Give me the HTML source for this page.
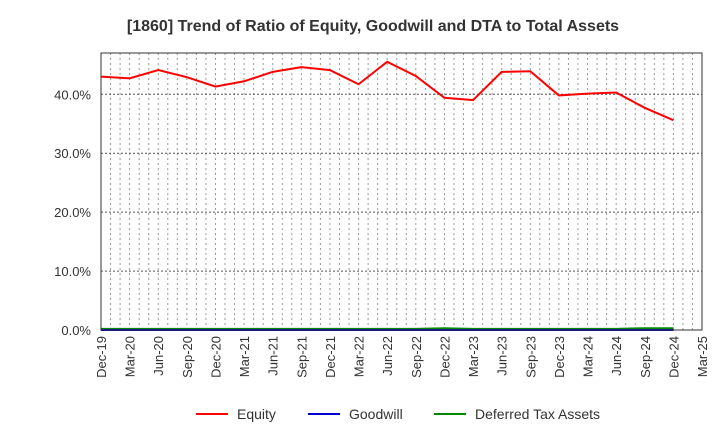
<!DOCTYPE html>
<html><head><meta charset="utf-8"><style>
body{margin:0;background:#fff;font-family:"Liberation Sans",sans-serif}
</style></head><body>
<svg width="720" height="440" xmlns="http://www.w3.org/2000/svg">
<text x="373" y="31" text-anchor="middle" font-size="16" font-weight="bold" fill="#333">[1860]  Trend of Ratio of Equity, Goodwill and DTA to Total Assets</text>
<g id="grid"></g>
<g id="yaxis"></g>
<g id="xaxis"></g>
<g id="series"></g>
<rect x="101" y="53" width="601" height="277" fill="none" stroke="#333" stroke-width="1"/>
<g>
<g><line x1="196" y1="414" x2="228" y2="414" stroke="#f00" stroke-width="2"/><text x="237" y="419" font-size="14" fill="#333">Equity</text></g>
<g><line x1="308" y1="414" x2="340" y2="414" stroke="#00c" stroke-width="2"/><text x="349" y="419" font-size="14" fill="#333">Goodwill</text></g>
<g><line x1="434" y1="414" x2="466" y2="414" stroke="#080" stroke-width="2"/><text x="475" y="419" font-size="14" fill="#333">Deferred Tax Assets</text></g>
</g>
</svg>
<script>
const categories=["Dec-19","Mar-20","Jun-20","Sep-20","Dec-20","Mar-21","Jun-21","Sep-21","Dec-21","Mar-22","Jun-22","Sep-22","Dec-22","Mar-23","Jun-23","Sep-23","Dec-23","Mar-24","Jun-24","Sep-24","Dec-24","Mar-25"];
const equity=[43.0,42.7,44.1,42.9,41.3,42.2,43.8,44.6,44.1,41.7,45.5,43.1,39.4,39.0,43.8,43.9,39.8,40.1,40.3,37.7,35.6];
const goodwill=[0,0,0,0,0,0,0,0,0,0,0,0,0,0,0,0,0,0,0,0,0];
const dta=[0.2,0.2,0.2,0.2,0.2,0.2,0.2,0.2,0.2,0.2,0.2,0.2,0.3,0.2,0.2,0.2,0.2,0.2,0.2,0.3,0.3];
const yTicks=[0,10,20,30,40];
const NS="http://www.w3.org/2000/svg";
const L=101,R=702,T=53,B=330,YMAX=47;
const x=i=>L+i*(R-L)/(categories.length-1);
const y=v=>B-v*(B-T)/YMAX;
function mk(tag,attrs,parent){const e=document.createElementNS(NS,tag);for(const k in attrs)e.setAttribute(k,attrs[k]);parent.appendChild(e);return e;}
const grid=document.getElementById('grid'),ya=document.getElementById('yaxis'),xa=document.getElementById('xaxis'),se=document.getElementById('series');
const months=(categories.length-1)*3;
for(let m=1;m<months;m++){const xx=L+m*(R-L)/months;
 const g=mk('line',{x1:xx,x2:xx,y1:T,y2:B,stroke:'#999','stroke-dasharray':'2,3','stroke-width':1},grid);
 
 }
yTicks.forEach(v=>{
 if(v>0){const g=mk('line',{x1:L,x2:R,y1:y(v),y2:y(v),stroke:'#555','stroke-dasharray':'2,2','stroke-width':1},grid);
 
 }
 const t=mk('text',{x:L-10,y:y(v)+5,'text-anchor':'end','font-size':13,fill:'#333'},ya);t.textContent=v.toFixed(1)+'%';
 
 
});
categories.forEach((c,i)=>{
 const t=mk('text',{x:0,y:0,'text-anchor':'end','font-size':13,fill:'#333',transform:`translate(${x(i)+5},336) rotate(-90)`},xa);t.textContent=c;
 
 
});
function line(arr,color,name){const p=mk('polyline',{points:arr.map((v,i)=>x(i)+','+y(v)).join(' '),fill:'none',stroke:color,'stroke-width':2},se);
 
 }
line(dta,'#080','dta-line');
line(goodwill,'#00c','goodwill-line');
line(equity,'#f00','equity-line');
</script>
</body></html>
